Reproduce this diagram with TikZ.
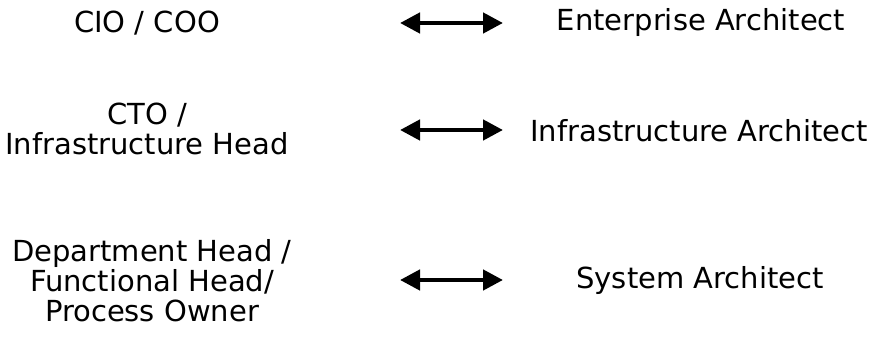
\documentclass[tikz,border=0pt]{standalone}
\usepackage{fontspec}
\setmainfont{DejaVu Sans}
\usetikzlibrary{arrows.meta}
\def\lw{4.5pt}
\tikzset{
    role/.style = {align=center, inner sep=0pt, font=\fontsize{29}{30}\selectfont},
    link/.style = {line width=\lw, {Triangle[length=20pt, width=20pt]}-{Triangle[length=20pt, width=20pt]}}
}

\begin{document}
\begin{tikzpicture}[x=1pt, y=1pt]
        \useasboundingbox (0,0) rectangle (879,339);

        % business side
        \node[role] (cio) at (147,316) {CIO / COO};
        \node[role] (cto) at (147,210) {CTO /\\Infrastructure Head};
        \node[role] (dept) at (152,58) {Department Head /\\Functional Head/\\Process Owner};

        % architect side
        \node[role] (ea) at (701,316) {Enterprise Architect};
        \node[role] (ia) at (699,208) {Infrastructure Architect};
        \node[role] (sa) at (700,58) {System Architect};

        % arrow ends
        \coordinate (e1) at (400,316);
        \coordinate (f1) at (503,316);
        \coordinate (e2) at (400,209);
        \coordinate (f2) at (503,209);
        \coordinate (e3) at (400,59);
        \coordinate (f3) at (503,59);

        % arrows
        \foreach \i in {1,2,3}
            \draw[link] (e\i) -- (f\i);
\end{tikzpicture}
\end{document}
